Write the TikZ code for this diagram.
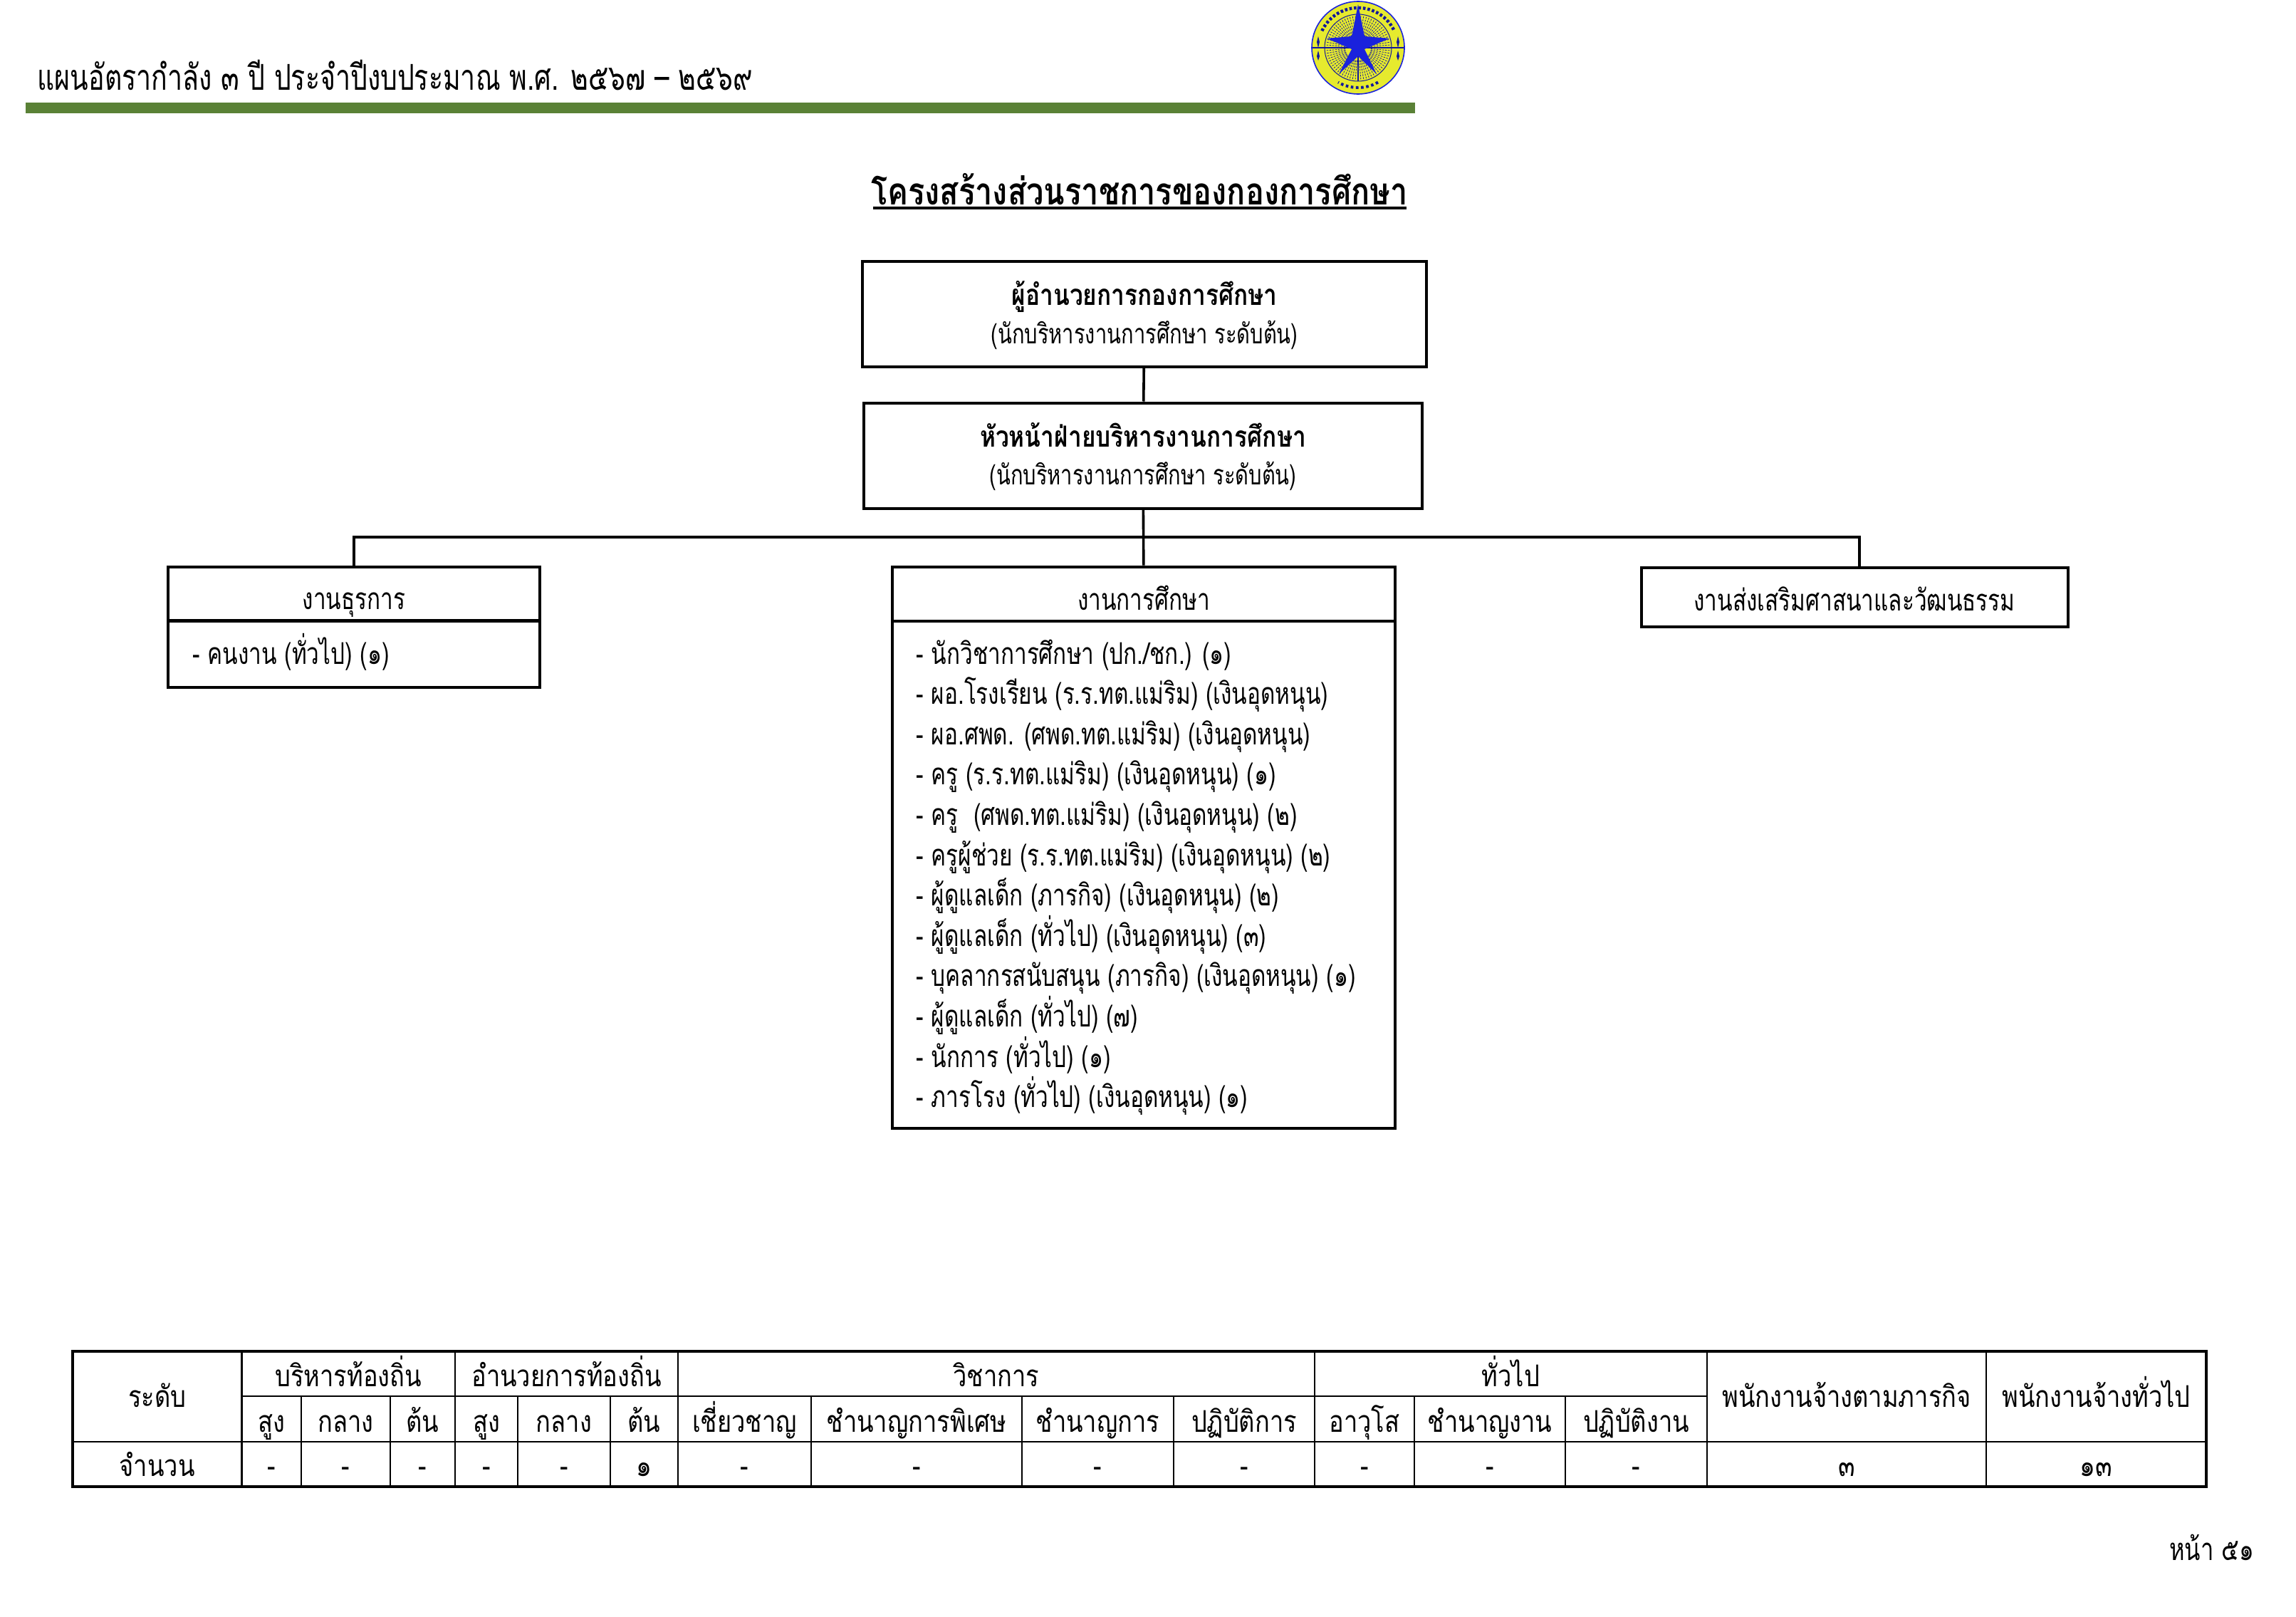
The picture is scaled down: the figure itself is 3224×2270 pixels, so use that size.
\documentclass[tikz,border=0pt]{standalone}
\usepackage{fontspec}
\setmainfont[Script=Thai,FakeStretch=0.82]{Loma}
\newfontfamily\listfont[Script=Thai,FakeStretch=0.75]{Loma}
\usepackage{tikz}
\usetikzlibrary{calc}
\definecolor{bargreen}{HTML}{5A8136}
\definecolor{logoyellow}{HTML}{E6EA2E}
\definecolor{logoblue}{HTML}{1A22DC}

\tikzset{
  orgbox/.style={draw=black,line width=1pt,inner sep=0pt},
  orgline/.style={draw=black,line width=0.9pt},
  gridline/.style={draw=black,line width=0.55pt},
  thai/.style={anchor=base,inner sep=0pt,font=\fontsize{10.5}{12}\selectfont},
  thaibold/.style={thai,font=\fontsize{10.2}{12}\selectfont\bfseries},
  thailist/.style={thai,font=\listfont\fontsize{10.5}{12}\selectfont},
  thairank/.style={thai,font=\listfont\fontsize{9.7}{12}\selectfont},
  listitem/.style={thailist,anchor=base west},
}

\begin{document}
\begin{tikzpicture}[x=0.25pt,y=-0.25pt]
  \useasboundingbox (0,0) rectangle (3224,2270);

  % page header
  \node[listitem,font=\listfont\fontsize{12.5}{14}\selectfont] (pagehead) at (52,126)
    {แผนอัตรากำลัง ๓ ปี ประจำปีงบประมาณ พ.ศ. ๒๕๖๗ – ๒๕๖๙};
  \fill[bargreen] (36,144) rectangle (1987,159);

  % emblem
  \begin{scope}[shift={(1907,67)}]
    \draw[logoblue,fill=logoyellow,line width=0.4pt] (0,0) circle[radius=65];
    \draw[logoblue!70!black,line width=0.25pt] (0,0) circle[radius=47];
    \draw[logoblue!70!black,line width=1.1pt,dash pattern=on 0.9pt off 0.7pt]
      (205:56) arc[start angle=205,end angle=335,radius=56];
    \draw[logoblue!70!black,line width=1pt,dash pattern=on 0.9pt off 0.9pt]
      (60:56) arc[start angle=60,end angle=120,radius=56];
    \foreach \a in {0,5,...,355}{
      \draw[logoblue!70!black,line width=0.2pt,dash pattern=on 0.6pt off 0.4pt]
        (\a:18) -- (\a:46);}
    \draw[logoblue!70!black,line width=0.3pt] (-64,0) -- (64,0) (0,0) -- (0,47);
    \fill[logoblue!70!black] (-56,-16) -- (-54,-8) -- (-56,0) -- (-58,-8) -- cycle
      (56,-16) -- (58,-8) -- (56,0) -- (54,-8) -- cycle
      (-56,4) -- (-54,12) -- (-56,18) -- (-58,12) -- cycle
      (56,4) -- (58,12) -- (56,18) -- (54,12) -- cycle;
    \fill[logoblue] (0,-61) -- (9,-16) -- (44,-13) -- (9,2) -- (26,37)
      -- (0,12) -- (-27,37) -- (-9,2) -- (-44,-13) -- (-9,-16) -- cycle;
  \end{scope}

  % title
  \node[thaibold,font=\fontsize{13.2}{15}\selectfont\bfseries] (title) at (1600,287)
    {โครงสร้างส่วนราชการของกองการศึกษา};
  \draw[black,line width=1pt] (1226,292) -- (1975,292);

  % org chart boxes
  \node[orgbox,minimum width=198pt,minimum height=37pt] (director) at (1607,441) {};
  \node[orgbox,minimum width=196pt,minimum height=37pt] (headdiv) at (1605,639.5) {};
  \node[orgbox,minimum width=130.5pt,minimum height=19pt] (adminhead) at (497,833.5) {};
  \node[orgbox,minimum width=130.5pt,minimum height=23.5pt] (adminbody) at (497,918) {};
  \node[orgbox,minimum width=176.5pt,minimum height=19pt] (eduhead) at (1606,833.5) {};
  \node[orgbox,minimum width=176.5pt,minimum height=178pt] (edubody) at (1606,1228) {};
  \node[orgbox,minimum width=149.75pt,minimum height=20.75pt] (religion) at (2604.5,838.5) {};
  \coordinate (branch) at (1606,754);
  \coordinate (religtop) at (2611,797);

  % connectors
  \draw[orgline] (director) -- (headdiv);
  \draw[orgline] (headdiv) -- (eduhead);
  \draw[orgline] (adminhead.north) |- (branch) -| (religtop);

  % box texts
  \node[thaibold] (dirtitle) at (1607,428) {ผู้อำนวยการกองการศึกษา};
  \node[thairank] (dirrank) at (1607,482) {(นักบริหารงานการศึกษา ระดับต้น)};
  \node[thaibold] (headtitle) at (1605,627) {หัวหน้าฝ่ายบริหารงานการศึกษา};
  \node[thairank] (headrank) at (1605,680) {(นักบริหารงานการศึกษา ระดับต้น)};
  \node[thailist] (admintitle) at (497,855) {งานธุรการ};
  \node[thailist] (edutitle) at (1606,856) {งานการศึกษา};
  \node[thailist] (religtitle) at (2604,857) {งานส่งเสริมศาสนาและวัฒนธรรม};
  \node[listitem] (adminitem) at (270,932) {- คนงาน (ทั่วไป) (๑)};

  \foreach \i/\t in {0/{- นักวิชาการศึกษา (ปก./ชก.) (๑)},
                     1/{- ผอ.โรงเรียน (ร.ร.ทต.แม่ริม) (เงินอุดหนุน)},
                     2/{- ผอ.ศพด. (ศพด.ทต.แม่ริม) (เงินอุดหนุน)},
                     3/{- ครู (ร.ร.ทต.แม่ริม) (เงินอุดหนุน) (๑)},
                     4/{- ครู~ (ศพด.ทต.แม่ริม) (เงินอุดหนุน) (๒)},
                     5/{- ครูผู้ช่วย (ร.ร.ทต.แม่ริม) (เงินอุดหนุน) (๒)},
                     6/{- ผู้ดูแลเด็ก (ภารกิจ) (เงินอุดหนุน) (๒)},
                     7/{- ผู้ดูแลเด็ก (ทั่วไป) (เงินอุดหนุน) (๓)},
                     8/{- บุคลากรสนับสนุน (ภารกิจ) (เงินอุดหนุน) (๑)},
                     9/{- ผู้ดูแลเด็ก (ทั่วไป) (๗)},
                     10/{- นักการ (ทั่วไป) (๑)},
                     11/{- ภารโรง (ทั่วไป) (เงินอุดหนุน) (๑)}}{
    \node[listitem] (eduitem\i) at (1286,932+56.6*\i) {\t};}

  % staffing table
  \def\cellbox#1#2#3#4#5#6{%
    \draw[gridline] (#1,#2) rectangle (#3,#4);
    \node[thai] (cell-#1-#2) at ({(#1+#3)/2},#5) {#6};}

  \cellbox{102}{1897}{339.5}{2024}{1975}{ระดับ}
  \cellbox{339.5}{1897}{639}{1960}{1946}{บริหารท้องถิ่น}
  \cellbox{639}{1897}{952}{1960}{1946}{อำนวยการท้องถิ่น}
  \cellbox{952}{1897}{1846}{1960}{1946}{วิชาการ}
  \cellbox{1846}{1897}{2397}{1960}{1946}{ทั่วไป}
  \cellbox{2397}{1897}{2789}{2024}{1975}{พนักงานจ้างตามภารกิจ}
  \cellbox{2789}{1897}{3098}{2024}{1975}{พนักงานจ้างทั่วไป}

  \foreach \xa/\xb/\t in {339.5/423/สูง,423/548/กลาง,548/639/ต้น,639/727/สูง,727/857/กลาง,
                          857/952/ต้น,952/1139/เชี่ยวชาญ,1139/1435/ชำนาญการพิเศษ,
                          1435/1648/ชำนาญการ,1648/1846/ปฏิบัติการ,1846/1986/อาวุโส,
                          1986/2198/ชำนาญงาน,2198/2397/ปฏิบัติงาน}{
    \cellbox{\xa}{1960}{\xb}{2024}{2010}{\t}}

  \foreach \xa/\xb/\t in {102/339.5/จำนวน,339.5/423/-,423/548/-,548/639/-,639/727/-,727/857/-,
                          857/952/๑,952/1139/-,1139/1435/-,1435/1648/-,1648/1846/-,
                          1846/1986/-,1986/2198/-,2198/2397/-,2397/2789/๓,2789/3098/๑๓}{
    \cellbox{\xa}{2024}{\xb}{2087}{2072}{\t}}

  \draw[black,line width=0.9pt] (102,1897) rectangle (3098,2087);

  % page number
  \node[thailist,anchor=base east,font=\listfont\fontsize{10.9}{12}\selectfont] (pageno) at (3166,2190) {หน้า ๕๑};
\end{tikzpicture}
\end{document}
